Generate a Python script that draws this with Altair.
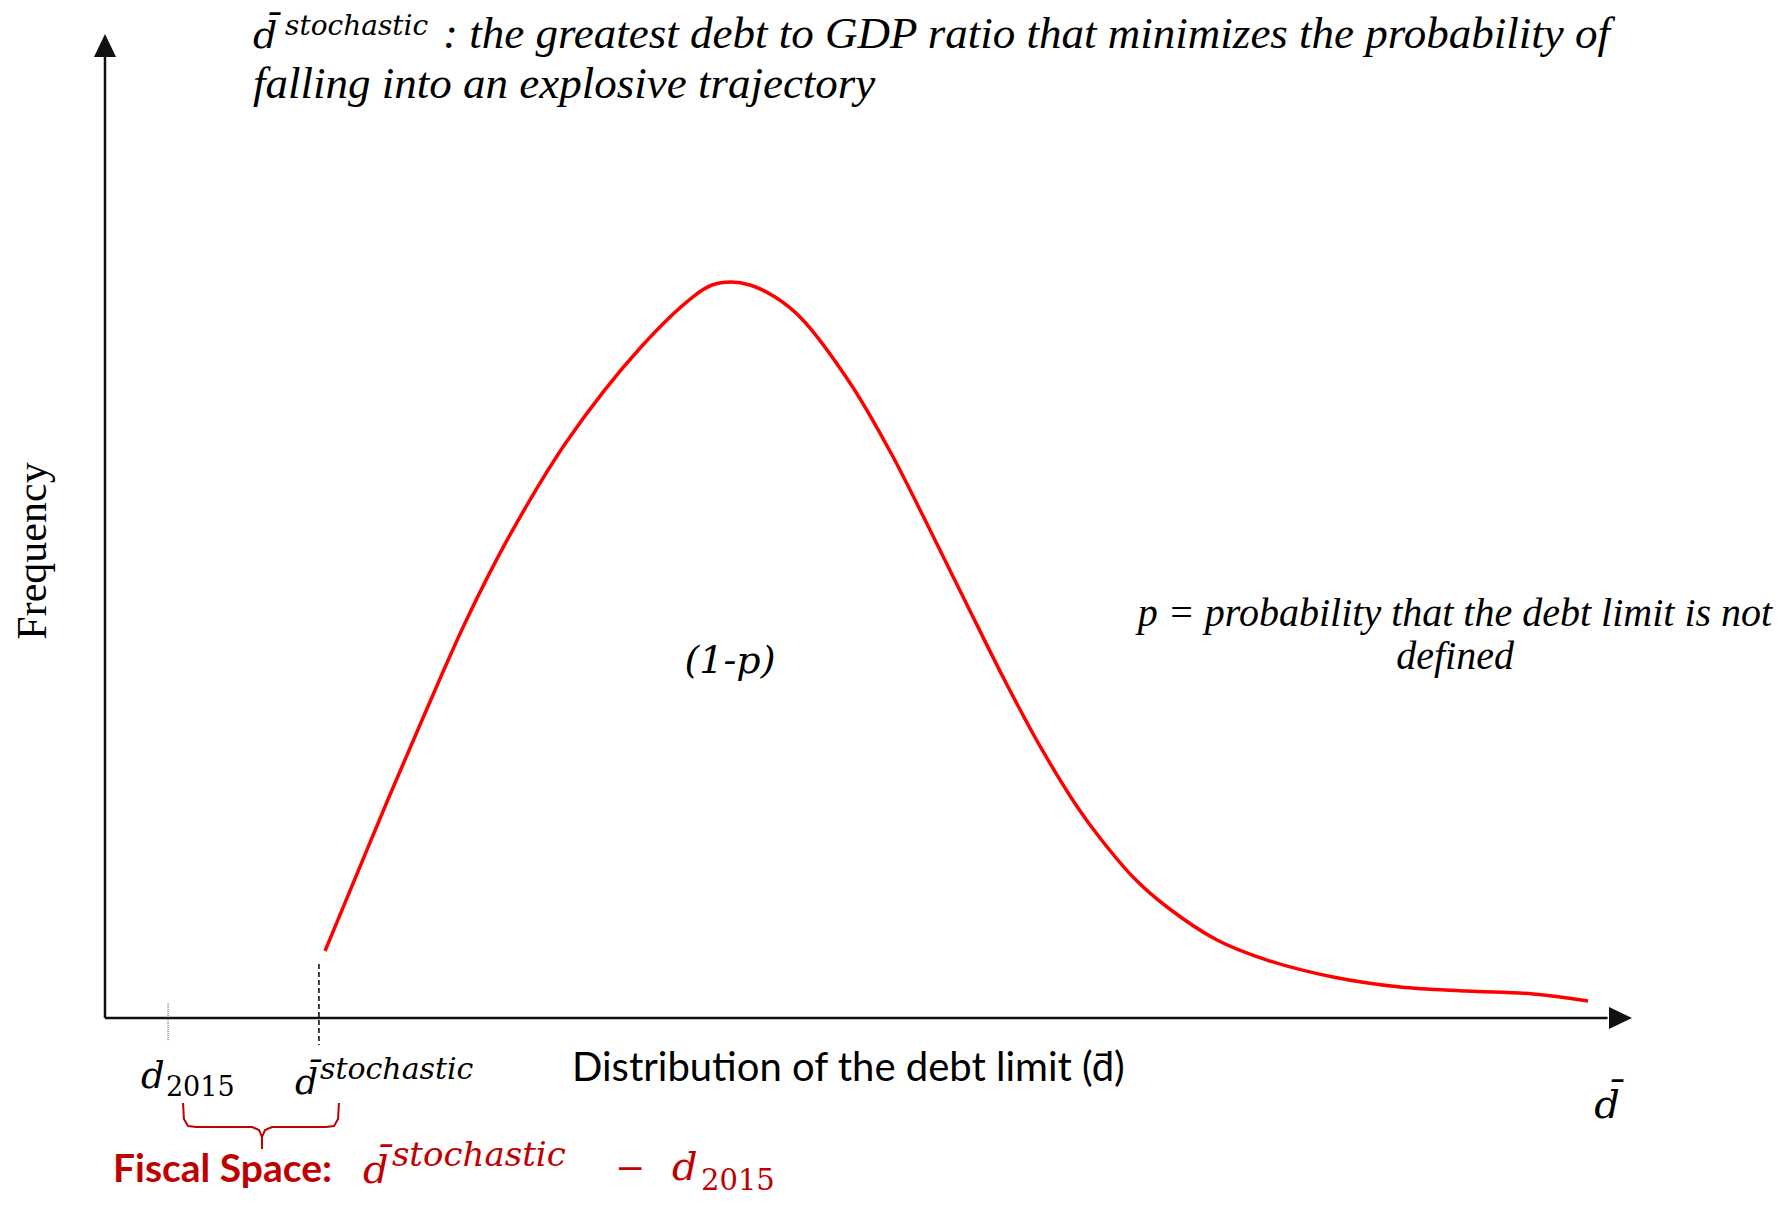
import altair as alt
import pandas as pd

# ---- distribution of the debt limit (x: debt limit, y: frequency) ----
curve_x = [14.41, 16.50, 18.60, 21.02, 23.64, 26.52, 30.26, 35.10, 38.57, 39.75,
           41.00, 42.24, 43.88, 45.58, 48.79, 51.47, 53.90, 56.52, 58.94, 61.30, 63.72,
           65.16, 67.32, 69.55, 72.82, 76.10, 80.42, 84.81, 89.19, 93.52, 97.12]
curve_y = [6.81, 14.63, 22.46, 31.20, 40.35, 49.09, 58.64, 68.19, 73.37, 74.49,
           74.80, 74.49, 73.27, 71.14, 64.53, 57.42, 50.00, 41.77, 34.25, 27.44, 21.34,
           18.29, 14.33, 11.28, 7.93, 5.89, 4.17, 3.15, 2.74, 2.44, 1.73]

# reference points on the debt-limit axis
d2015_x = 4.13
dstoch_x = 14.01

# brace marking the fiscal space (two halves)
brace_half = [0, 0, 0, 0, 0, 0, 0, 0, 1, 1, 1, 1, 1, 1, 1, 1]
brace_x = [5.11, 5.17, 5.44, 5.96, 9.63, 10.09, 10.28, 10.28,
           15.32, 15.26, 15.00, 14.47, 10.94, 10.48, 10.28, 10.28]
brace_y = [-8.64, -10.26, -10.97, -11.08, -11.08, -11.38, -12.09, -13.30,
           -8.64, -10.26, -10.97, -11.08, -11.08, -11.38, -12.09, -13.30]

# annotation texts
ann_text = ["d\u0304", "stochastic",
            ": the greatest debt to GDP ratio that minimizes the probability of",
            "falling into an explosive trajectory",
            "(1-p)",
            "p = probability that the debt limit is not", "defined",
            "Frequency",
            "Distribution of the debt limit (d\u0304)",
            "d\u0304",
            "d", "2015", "d\u0304", "stochastic",
            "Fiscal Space:", "d\u0304", "stochastic", "\u2212", "d", "2015"]
ann_x = [9.69, 11.79, 22.13, 9.69, 40.93, 88.41, 88.41, -3.86, 30.58, 98.36,
         2.36, 3.99, 12.44, 14.08, 0.52, 16.90, 18.79, 34.38, 37.13, 39.03]
ann_y = [98.58, 99.90, 98.58, 93.50, 35.06, 39.84, 35.47, 47.46, -6.40, -10.16,
         -7.11, -7.93, -7.72, -6.20, -16.67, -16.77, -15.04, -16.46, -16.46, -17.48]
ann_group = ["mi", "mi", "pl", "pl", "mic", "pc", "pc", "freq", "sans", "mic",
             "mi", "mn", "mi", "mi", "bold", "mi", "mi", "mnc", "mi", "mn"]
ann_size = [38, 28, 45, 45, 38, 40, 40, 42, 40, 40,
            37, 27, 36, 30, 39, 40, 34, 36, 40, 29]
RED = "#c00000"
ann_color = ["black"] * 14 + [RED] * 6

curve = pd.DataFrame({"x": curve_x, "y": curve_y})
brace = pd.DataFrame({"x": brace_x, "y": brace_y, "half": brace_half,
                      "i": list(range(len(brace_x)))})
ann = pd.DataFrame({"t": ann_text, "x": ann_x, "y": ann_y, "g": ann_group,
                    "s": ann_size, "c": ann_color})

XS = alt.Scale(domain=[-6.352, 109.69], nice=False, zero=False)
YS = alt.Scale(domain=[-18.19, 102.64], nice=False, zero=False)
X = alt.X("x:Q", scale=XS, axis=None)
Y = alt.Y("y:Q", scale=YS, axis=None)

axes_df = pd.DataFrame({"x": [0, 0], "y": [0, 0], "x2": [0, 98.4], "y2": [97.66, 0]})
axes = alt.Chart(axes_df).mark_rule(color="#111", strokeWidth=2.5).encode(
    x=X, y=Y, x2="x2:Q", y2="y2:Q")

arrow_up = alt.Chart(pd.DataFrame({"x": [0], "y": [100]})).mark_point(
    shape="M0,0L-0.96,2L0.96,2Z", size=529, filled=True, color="#111", opacity=1,
    strokeWidth=0).encode(x=X, y=Y)
arrow_right = alt.Chart(pd.DataFrame({"x": [100], "y": [0]})).mark_point(
    shape="M0,0L-2,-0.96L-2,0.96Z", size=529, filled=True, color="#111", opacity=1,
    strokeWidth=0).encode(x=X, y=Y)

d2015_tick = alt.Chart(pd.DataFrame({"x": [d2015_x], "y": [1.52], "y2": [-2.24]})).mark_rule(
    color="#555", strokeWidth=1, strokeDash=[1, 1]).encode(x=X, y=Y, y2="y2:Q")
dstoch_tick = alt.Chart(pd.DataFrame({"x": [dstoch_x], "y": [5.49], "y2": [-2.74]})).mark_rule(
    color="#111", strokeWidth=1.6, strokeDash=[5, 3]).encode(x=X, y=Y, y2="y2:Q")

line = alt.Chart(curve).mark_line(color="#ff0000", strokeWidth=3.5,
                                  interpolate="catmull-rom").encode(x=X, y=Y)

brace_l = alt.Chart(brace).mark_line(color=RED, strokeWidth=2).encode(
    x=X, y=Y, detail="half:N", order="i:Q")


def text_layer(group, font, style="normal", weight="normal", align="left", angle=0):
    kw = dict(font=font, fontStyle=style, fontWeight=weight, align=align,
              baseline="alphabetic")
    if angle:
        kw["angle"] = angle
    return alt.Chart(ann).transform_filter(alt.datum.g == group).mark_text(**kw).encode(
        x=X, y=Y, text="t:N",
        size=alt.Size("s:Q", scale=None, legend=None),
        color=alt.Color("c:N", scale=None, legend=None))


texts = [
    text_layer("mi", "DejaVu Serif", style="italic"),
    text_layer("mn", "DejaVu Serif"),
    text_layer("mic", "DejaVu Serif", style="italic", align="center"),
    text_layer("mnc", "DejaVu Serif", align="center"),
    text_layer("pl", "Liberation Serif", style="italic"),
    text_layer("pc", "Liberation Serif", style="italic", align="center"),
    text_layer("freq", "Liberation Serif", align="center", angle=270),
    text_layer("sans", "Lato"),
    text_layer("bold", "Lato", weight="bold"),
]

chart = alt.layer(axes, arrow_up, arrow_right, d2015_tick, dstoch_tick, line, brace_l,
                  *texts).properties(
    width=1772, height=1189, autosize=alt.AutoSizeParams(type="none"),
    padding=0, background="white"
).configure_view(stroke=None)

chart.save("out.html", embed_options={"renderer": "svg", "actions": False})
